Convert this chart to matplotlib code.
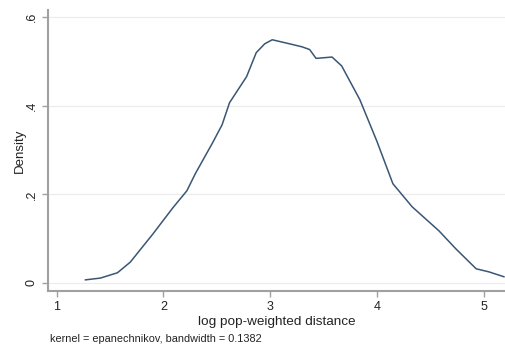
import matplotlib
matplotlib.use("Agg")
import matplotlib.pyplot as plt

# kernel density of log pop-weighted distance
x = [1.27, 1.41, 1.57, 1.69, 1.90, 2.09, 2.22, 2.30, 2.46, 2.55, 2.62, 2.78,
     2.87, 2.95, 3.02, 3.18, 3.30, 3.37, 3.43, 3.58, 3.67, 3.84, 4.00, 4.15,
     4.33, 4.58, 4.74, 4.93, 5.05, 5.19]
density = [0.007, 0.011, 0.023, 0.047, 0.110, 0.170, 0.208, 0.247, 0.316, 0.357,
           0.407, 0.466, 0.520, 0.540, 0.549, 0.540, 0.533, 0.527, 0.507, 0.510,
           0.490, 0.414, 0.320, 0.224, 0.172, 0.118, 0.077, 0.032, 0.025, 0.014]

xticks = [1, 2, 3, 4, 5]
yticks = [0, 0.2, 0.4, 0.6]
ytick_labels = ["0", ".2", ".4", ".6"]

plt.rcParams["font.family"] = ["Liberation Sans", "DejaVu Sans"]

fig = plt.figure(figsize=(5.06, 3.48), dpi=100)
ax = fig.add_axes([0.095, 0.164, 0.903, 0.807])

ax.plot(x, density, color="#3a5674", lw=1.1)

ax.set_xlim(0.92, 5.2)
ax.set_ylim(-0.018, 0.616)
ax.set_xticks(xticks)
ax.set_yticks(yticks)
ax.set_yticklabels(ytick_labels, rotation=90, va="center")
ax.grid(axis="y", color="#ebebeb", lw=0.8)
ax.set_axisbelow(True)

for side in ["top", "right"]:
    ax.spines[side].set_visible(False)
for side in ["left", "bottom"]:
    ax.spines[side].set_color("#a0a0a0")
    ax.spines[side].set_linewidth(1.5)
ax.tick_params(color="#a0a0a0", length=4, width=1, labelsize=9, labelcolor="#222222")

ax.set_ylabel("Density", fontsize=9.5, color="#222222", labelpad=0)
ax.set_xlabel("log pop-weighted distance", fontsize=9.7, color="#222222", labelpad=2)
fig.text(0.099, 0.018, "kernel = epanechnikov, bandwidth = 0.1382",
         fontsize=7.8, color="#222222", va="baseline")

plt.savefig("out.png", dpi=100)
